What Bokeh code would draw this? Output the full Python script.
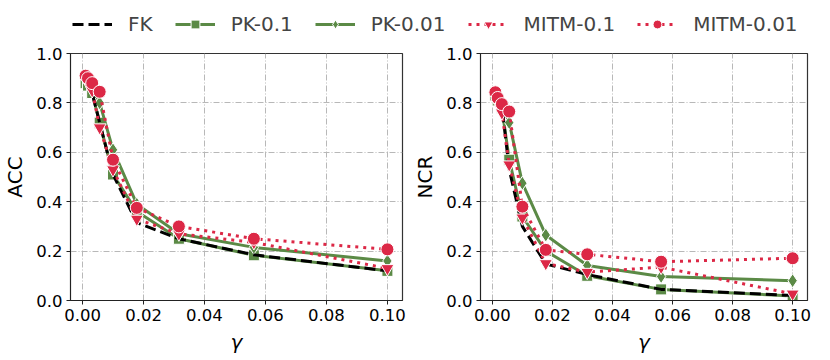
from bokeh.plotting import figure
from bokeh.layouts import column, row
from bokeh.models import Legend, LegendItem, Range1d, FixedTicker, NumeralTickFormatter
from bokeh.embed import file_html
from bokeh.resources import INLINE

gamma = [0.001, 0.00178, 0.00316, 0.00562, 0.01, 0.0178, 0.0316, 0.0562, 0.1]

acc_fk = [0.885, 0.875, 0.84, 0.72, 0.51, 0.315, 0.25, 0.185, 0.12]
acc_pk01 = [0.88, 0.87, 0.84, 0.72, 0.51, 0.36, 0.25, 0.183, 0.12]
acc_pk001 = [0.90, 0.89, 0.87, 0.80, 0.61, 0.39, 0.27, 0.215, 0.16]
acc_mitm01 = [0.90, 0.88, 0.85, 0.70, 0.53, 0.33, 0.27, 0.235, 0.13]
acc_mitm001 = [0.91, 0.90, 0.88, 0.845, 0.57, 0.375, 0.30, 0.25, 0.207]

ncr_fk = [0.82, 0.81, 0.79, 0.53, 0.30, 0.148, 0.105, 0.045, 0.02]
ncr_pk01 = [0.83, 0.81, 0.78, 0.57, 0.34, 0.20, 0.10, 0.045, 0.018]
ncr_pk001 = [0.84, 0.835, 0.80, 0.72, 0.475, 0.265, 0.142, 0.097, 0.08]
ncr_mitm01 = [0.83, 0.80, 0.76, 0.55, 0.335, 0.15, 0.115, 0.135, 0.027]
ncr_mitm001 = [0.843, 0.82, 0.795, 0.765, 0.38, 0.205, 0.187, 0.157, 0.171]

labels = ["FK", "PK-0.1", "PK-0.01", "MITM-0.1", "MITM-0.01"]
x_ticks = [0.0, 0.02, 0.04, 0.06, 0.08, 0.10]
y_ticks = [0.0, 0.2, 0.4, 0.6, 0.8, 1.0]

GREEN = "#5b8a46"
RED = "#dc2846"
FONT = "DejaVu Sans"

styles = {
    "FK": dict(color="black", dash="11 5", marker=None),
    "PK-0.1": dict(color=GREEN, dash="solid", marker="square"),
    "PK-0.01": dict(color=GREEN, dash="solid", marker="diamond"),
    "MITM-0.1": dict(color=RED, dash="3 5", marker="inverted_triangle"),
    "MITM-0.01": dict(color=RED, dash="3 5", marker="circle"),
}
msize = {"square": 11, "diamond": 14, "inverted_triangle": 13, "circle": 13}
draw_order = ["PK-0.1", "PK-0.01", "FK", "MITM-0.1", "MITM-0.01"]


def add_series(p, xs, ys, name):
    st = styles[name]
    lr = p.line(xs, ys, line_color=st["color"], line_width=3, line_dash=st["dash"], line_cap="butt")
    sr = None
    if st["marker"]:
        sr = p.scatter(xs, ys, marker=st["marker"], size=msize[st["marker"]],
                       fill_color=st["color"], line_color="white", line_width=1)
    return lr, sr


def make_panel(ylabel, series, width, border_left):
    p = figure(width=width, height=312, output_backend="svg", toolbar_location=None,
               x_range=Range1d(-0.00395, 0.10495), y_range=Range1d(0, 1.0),
               min_border_left=border_left, min_border_right=8, min_border_top=9, min_border_bottom=50)
    p.outline_line_color = "#333333"
    p.outline_line_width = 1.2
    p.background_fill_color = "white"
    for name in draw_order:
        add_series(p, gamma, series[name], name)
    for ax in (p.xaxis[0], p.yaxis[0]):
        ax.major_label_text_font = FONT
        ax.major_label_text_font_size = "16.5px"
        ax.major_label_text_color = "black"
        ax.axis_label_text_font = FONT
        ax.axis_label_text_font_size = "20px"
        ax.axis_label_text_color = "black"
        ax.axis_label_text_font_style = "normal"
        ax.minor_tick_line_color = None
        ax.major_tick_out = 4
        ax.major_tick_in = 0
        ax.axis_line_color = "#222222"
        ax.major_tick_line_color = "#222222"
        ax.major_label_standoff = 4
    p.xaxis.ticker = FixedTicker(ticks=x_ticks)
    p.yaxis.ticker = FixedTicker(ticks=y_ticks)
    p.xaxis.formatter = NumeralTickFormatter(format="0.00")
    p.yaxis.formatter = NumeralTickFormatter(format="0.0")
    p.xaxis.axis_label = "γ"
    p.xaxis.axis_label_text_font_style = "italic"
    p.xaxis.axis_label_standoff = 6
    p.yaxis.axis_label = ylabel
    p.yaxis.axis_label_standoff = 6
    for g in (p.xgrid[0], p.ygrid[0]):
        g.grid_line_color = "#b8b8b8"
        g.grid_line_dash = "6 2 1 2"
        g.grid_line_width = 1
    return p


acc = dict(zip(labels, [acc_fk, acc_pk01, acc_pk001, acc_mitm01, acc_mitm001]))
ncr = dict(zip(labels, [ncr_fk, ncr_pk01, ncr_pk001, ncr_mitm01, ncr_mitm001]))

p1 = make_panel("ACC", acc, 410, 62)
p2 = make_panel("NCR", ncr, 405, 59)

# legend strip
lg = figure(width=815, height=44, output_backend="svg", toolbar_location=None,
            x_range=Range1d(10, 11), y_range=Range1d(10, 11),
            min_border=0, min_border_left=0, min_border_right=0, min_border_top=0, min_border_bottom=0)
lg.axis.visible = False
lg.grid.visible = False
lg.outline_line_color = None
items = []
for name in labels:
    lr, sr = add_series(lg, [0.0], [0.0], name)
    rs = [lr] + ([sr] if sr is not None else [])
    items.append(LegendItem(label=name, renderers=rs))
legend = Legend(items=items, orientation="horizontal", location=(72, 8),
                border_line_color=None, background_fill_alpha=0,
                label_text_font=FONT, label_text_font_size="20px",
                glyph_width=40, glyph_height=22, label_standoff=16, spacing=22,
                padding=0, margin=0, label_height=22)
lg.add_layout(legend, "center")

layout = column(lg, row(p1, p2, spacing=0), spacing=0)
open("out.html", "w").write(file_html(layout, INLINE))
